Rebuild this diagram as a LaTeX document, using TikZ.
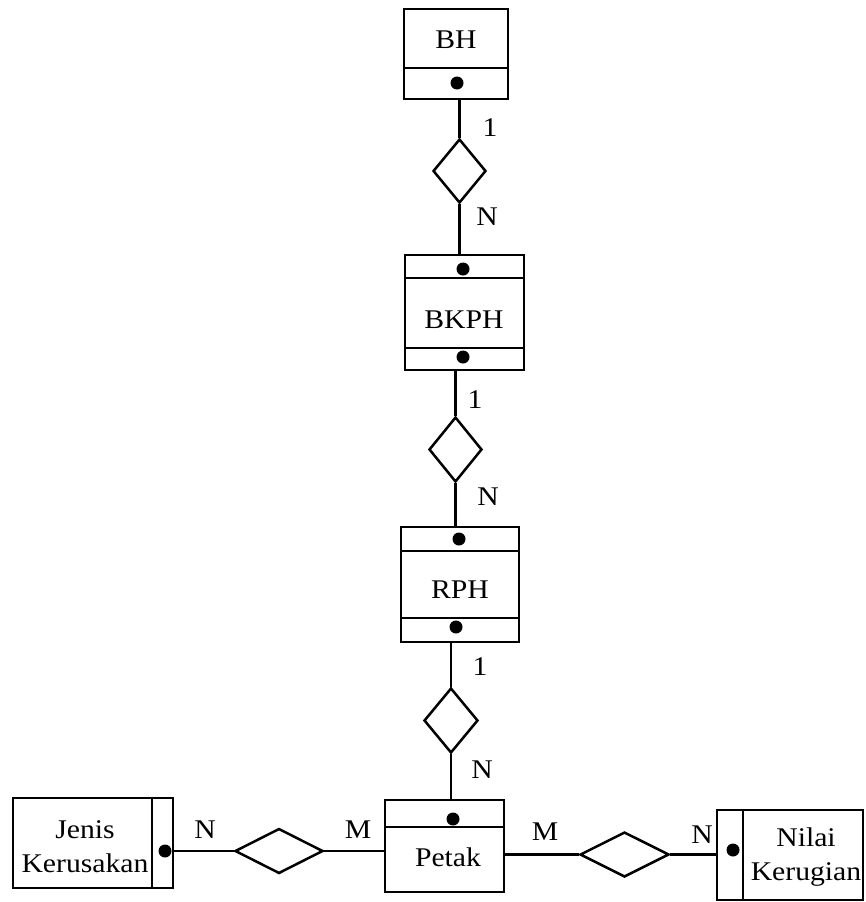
\documentclass[tikz,border=0pt]{standalone}
\usepackage{fontspec}
\setmainfont{Liberation Serif}[FakeStretch=1.1]
\usetikzlibrary{shapes.geometric}
\begin{document}
\begin{tikzpicture}[x=1pt,y=-1pt,
  lw/.style={line width=2.5pt},
  ent/.style={draw,lw,rectangle,inner sep=0pt},
  rel/.style={draw,lw,diamond,inner sep=0pt},
  txt/.style={font=\fontsize{27}{34}\selectfont,inner sep=0pt,align=center},
  lbl/.style={font=\fontsize{27}{30}\selectfont,inner sep=0pt},
  pk/.style={fill=black,circle,inner sep=0pt,minimum size=13pt}]
\useasboundingbox (0,0) rectangle (865,902);
% entities
\node[ent,minimum width=104pt,minimum height=90pt] (bh) at (456,54) {};
\node[ent,minimum width=119pt,minimum height=115pt] (bkph) at (464.5,312.5) {};
\node[ent,minimum width=118pt,minimum height=115pt] (rph) at (460,584.5) {};
\node[ent,minimum width=119pt,minimum height=92pt] (petak) at (444.5,846) {};
\node[ent,minimum width=160pt,minimum height=90pt] (jk) at (93,843) {};
\node[ent,minimum width=146pt,minimum height=90pt] (nk) at (790,855) {};
% dividers
\draw[lw] (bh.west |- 0,68) -- (bh.east |- 0,68);
\draw[lw] (bkph.west |- 0,278) -- (bkph.east |- 0,278);
\draw[lw] (bkph.west |- 0,348) -- (bkph.east |- 0,348);
\draw[lw] (rph.west |- 0,551) -- (rph.east |- 0,551);
\draw[lw] (rph.west |- 0,618) -- (rph.east |- 0,618);
\draw[lw] (petak.west |- 0,827) -- (petak.east |- 0,827);
\draw[lw] (jk.north -| 152,0) -- (jk.south -| 152,0);
\draw[lw] (nk.north -| 743,0) -- (nk.south -| 743,0);
% texts
\node[txt] (tbh) at (456,40) {BH};
\node[txt] (tbkph) at (464,320) {BKPH};
\node[txt] (trph) at (460,590) {RPH};
\node[txt] (tpetak) at (448,857) {Petak};
\node[txt] (tjk) at (85,847) {Jenis\\Kerusakan};
\node[txt] (tnk) at (806,857) {Nilai\\Kerugian};
% key dots
\node[pk] (p1) at (457,83) {};
\node[pk] (p2) at (463,269) {};
\node[pk] (p3) at (463,357) {};
\node[pk] (p4) at (459,539) {};
\node[pk] (p5) at (456,627) {};
\node[pk] (p6) at (453,819) {};
\node[pk] (p7) at (165,851) {};
\node[pk] (p8) at (733,850) {};
% relationships
\node[rel,minimum width=53pt,minimum height=64pt] (d1) at (459.5,171) {};
\node[rel,minimum width=53pt,minimum height=65pt] (d2) at (455.5,449.5) {};
\node[rel,minimum width=54pt,minimum height=65pt] (d3) at (451,720.5) {};
\node[rel,minimum width=88pt,minimum height=45pt] (d4) at (279,851) {};
\node[rel,minimum width=89pt,minimum height=45pt] (d5) at (624.5,854.5) {};
% connectors
\draw[lw] (d1.north) -- (d1.north |- bh.south);
\draw[lw] (d1.south) -- (d1.south |- bkph.north);
\draw[lw] (d2.north) -- (d2.north |- bkph.south);
\draw[lw] (d2.south) -- (d2.south |- rph.north);
\draw[lw] (d3.north) -- (d3.north |- rph.south);
\draw[lw] (d3.south) -- (d3.south |- petak.north);
\draw[lw] (d4.west) -- (d4.west -| jk.east);
\draw[lw] (d4.east) -- (d4.east -| petak.west);
\draw[lw] (d5.west) -- (d5.west -| petak.east);
\draw[lw] (d5.east) -- (d5.east -| nk.west);
% cardinalities
\node[lbl] (c1) at (490,128) {1};
\node[lbl] (c2) at (487,217) {N};
\node[lbl] (c3) at (475,400) {1};
\node[lbl] (c4) at (488,497) {N};
\node[lbl] (c5) at (480,667) {1};
\node[lbl] (c6) at (482,770) {N};
\node[lbl] (c7) at (205,830) {N};
\node[lbl] (c8) at (358,830) {M};
\node[lbl] (c9) at (545,832) {M};
\node[lbl] (c10) at (702,835) {N};
\end{tikzpicture}
\end{document}
